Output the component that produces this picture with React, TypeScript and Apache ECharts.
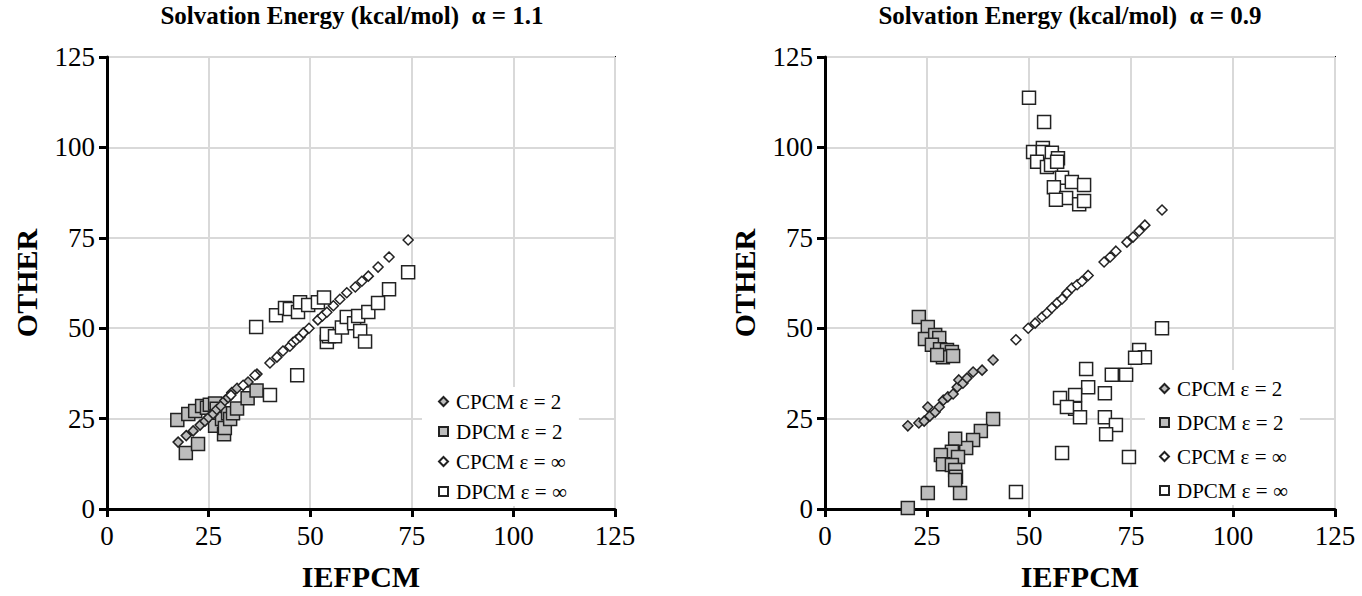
import React, { useEffect, useRef } from "react";
import * as echarts from "echarts";

const seriesNames = ["CPCM ε = 2", "DPCM ε = 2", "CPCM ε = ∞", "DPCM ε = ∞"];
const axisTicks = [0, 25, 50, 75, 100, 125];
const titles = ["Solvation Energy (kcal/mol)  α = 1.1", "Solvation Energy (kcal/mol)  α = 0.9"];
const xName = "IEFPCM";
const yName = "OTHER";

// Left panel (alpha = 1.1)
const leftCpcm2: number[][] = [
  [17.5, 18.5], [19.5, 20.3], [21.2, 21.6], [22.9, 23.2], [24.1, 24.3], [25, 25.3], [26.1, 26.3],
  [27, 27.5], [28, 28.5], [29, 30], [29.8, 30.8], [30.7, 32.2], [32, 33.4], [34.7, 35.1], [36.9, 37.3],
];
const leftDpcm2: number[][] = [
  [17.3, 24.6], [19.4, 15.5], [20, 26.3], [21.7, 27.1], [22.4, 18], [23.4, 28.5], [24.6, 28],
  [25.3, 28.8], [26.6, 29.2], [26.6, 23], [27, 27.7], [28.3, 24.9], [28.8, 20.7], [29, 22.4],
  [29.8, 26.5], [30.3, 24.9], [31, 26.5], [32, 27.8], [34.6, 30.6], [36.8, 32.8],
];
const leftCpcmInf: number[][] = [
  [30.5, 31.5], [33.5, 34.2], [36.4, 37], [40.1, 40.4], [41.8, 42], [43.3, 43.7], [45, 45],
  [45.8, 46.1], [46.6, 46.8], [47.5, 47.6], [48.3, 48.7], [49.7, 50], [51.9, 52.3], [53, 53.4],
  [54.1, 54.4], [55.7, 56.2], [57.3, 58], [59, 59.8], [61.1, 61.4], [62.7, 63], [64.3, 64.4],
  [66.7, 66.9], [69.4, 69.7], [74.1, 74.4],
];
const leftDpcmInf: number[][] = [
  [36.7, 50.3], [40.1, 31.5], [41.6, 53.6], [43.8, 55.6], [45, 55.3], [46.8, 37], [47, 54.5],
  [47.5, 57.2], [49.5, 56.4], [51.9, 57.2], [53.4, 58.5], [54.1, 46.2], [54.6, 47.8], [54.1, 48.4],
  [56.1, 47.8], [57.8, 50.2], [59, 53.1], [60.8, 51.4], [61.8, 53.4], [62.3, 49.2], [63.5, 46.3],
  [64.3, 54.5], [66.7, 57], [69.4, 60.8], [74.1, 65.5],
];

// Right panel (alpha = 0.9)
const rightCpcm2: number[][] = [
  [20.3, 23], [23, 23.8], [24.3, 24.3], [25.2, 28.2], [25.7, 25.7], [27, 26.8], [28, 28.2],
  [29, 30.1], [30.1, 31], [31.4, 31.8], [32.4, 33.7], [32.8, 35.7], [33.8, 34.8], [34.8, 36.2],
  [36.3, 37.9], [38.5, 38.4], [41.2, 41.2],
];
const rightDpcm2: number[][] = [
  [23, 53.1], [25.2, 50.3], [24.5, 47], [27, 48.1], [28, 47.3], [26.2, 45.4], [28.2, 44.2],
  [29.9, 44], [31.1, 43.4], [28.9, 42], [31.4, 42.3], [27.5, 42.6],
  [20.3, 0.3], [25.2, 4.4], [33.1, 4.4], [41.2, 24.9], [38.2, 21.6], [36.3, 19.1], [34.6, 16.9],
  [31.9, 19.4], [31.1, 15.8], [28.4, 14.9], [32.6, 14.4], [28.9, 12.4], [31.1, 12.2], [31.9, 10.8],
  [32.1, 8.9], [31.9, 8],
];
const rightCpcmInf: number[][] = [
  [46.8, 46.8], [49.8, 50], [51.5, 51.4], [53.2, 53.1], [54.4, 54.2], [55.6, 55.6], [56.9, 57],
  [58.1, 58.1], [59.3, 59.7], [60.5, 61.1], [61.8, 62], [63, 63], [64.5, 64.6], [68.4, 68.3],
  [69.9, 69.7], [71.3, 71.3], [74, 73.8], [75.5, 75.2], [77, 76.9], [78.4, 78.5], [82.6, 82.7],
];
const rightDpcmInf: number[][] = [
  [50, 113.7], [53.7, 107], [51, 98.7], [53.4, 99.8], [53.4, 98.7], [55.6, 98.5], [57.1, 97],
  [52, 96], [54.4, 94.6], [55.4, 95.1], [56.9, 96], [58.1, 91.6], [60.5, 90.4], [63.5, 89.6],
  [56.1, 89], [59.1, 86], [56.6, 85.5], [62.3, 84.3], [63.5, 85.2],
  [82.6, 50], [77, 44], [78.4, 42], [76, 41.8], [64, 38.7], [70.3, 37.1], [73.8, 37.1],
  [64.5, 33.7], [61.3, 31.5], [57.6, 30.7], [68.6, 32], [61.3, 27.7], [62.5, 25.4], [59.3, 28.2],
  [68.6, 25.4], [71.3, 23.2], [68.9, 20.7], [58.1, 15.5], [74.5, 14.4], [46.8, 4.7],
];

const FONT = '"Liberation Serif", "Times New Roman", serif';
const GRAY = "#bdbdbd";
const EDGE = "#222222";

export default function App() {
  const ref = useRef<HTMLDivElement>(null);
  useEffect(() => {
    if (!ref.current) return;
    const chart = echarts.init(ref.current, null, { renderer: "svg" });
    const grids = [
      { left: 107, top: 57, width: 508, height: 453 },
      { left: 825, top: 57, width: 510, height: 453 },
    ];
    const makeX = (gi: number) => ({
      type: "value",
      gridIndex: gi,
      min: axisTicks[0],
      max: axisTicks[axisTicks.length - 1],
      interval: 25,
      name: xName,
      nameLocation: "middle",
      nameGap: 52,
      nameTextStyle: { fontFamily: FONT, fontWeight: "bold", fontSize: 30, color: "#000" },
      axisLine: { show: true, onZero: false, lineStyle: { color: "#000", width: 3 } },
      axisTick: { show: true, inside: false, length: 8, lineStyle: { color: "#000", width: 3 } },
      axisLabel: { fontFamily: FONT, fontSize: 27, color: "#000", margin: 13 },
      splitLine: { show: true, lineStyle: { color: "#d9d9d9", width: 2 } },
    });
    const makeY = (gi: number) => ({
      type: "value",
      gridIndex: gi,
      min: axisTicks[0],
      max: axisTicks[axisTicks.length - 1],
      interval: 25,
      name: yName,
      nameLocation: "middle",
      nameGap: 66,
      nameRotate: 90,
      nameTextStyle: { fontFamily: FONT, fontWeight: "bold", fontSize: 30, color: "#000" },
      axisLine: { show: true, onZero: false, lineStyle: { color: "#000", width: 3 } },
      axisTick: { show: true, inside: false, length: 8, lineStyle: { color: "#000", width: 3 } },
      axisLabel: { fontFamily: FONT, fontSize: 27, color: "#000", margin: 12 },
      splitLine: { show: true, lineStyle: { color: "#d9d9d9", width: 2 } },
    });
    const panelData = [
      [leftCpcm2, leftDpcm2, leftCpcmInf, leftDpcmInf],
      [rightCpcm2, rightDpcm2, rightCpcmInf, rightDpcmInf],
    ];
    const styles = [
      { symbol: "diamond", size: 10, color: GRAY, z: 4 },
      { symbol: "rect", size: 13, color: GRAY, z: 3 },
      { symbol: "diamond", size: 10, color: "#ffffff", z: 5 },
      { symbol: "rect", size: 13, color: "#ffffff", z: 6 },
    ];
    const series: any[] = [];
    panelData.forEach((sets, gi) => {
      sets.forEach((d, si) => {
        const s = styles[si];
        series.push({
          type: "scatter",
          name: seriesNames[si],
          xAxisIndex: gi,
          yAxisIndex: gi,
          data: d,
          symbol: s.symbol,
          symbolSize: s.size,
          z: s.z,
          itemStyle: { color: s.color, borderColor: EDGE, borderWidth: 1.5, opacity: 1 },
          emphasis: { disabled: true },
        });
      });
    });
    const legendBase = {
      orient: "vertical",
      data: seriesNames,
      itemWidth: 9,
      itemHeight: 9,
      backgroundColor: "#ffffff",
      textStyle: { fontFamily: FONT, fontSize: 21, color: "#000", padding: [0, 0, 0, 3] },
      selectedMode: false,
    };
    const titleStyle = { fontFamily: FONT, fontWeight: "bold", fontSize: 25, color: "#000" };
    chart.setOption({
      animation: false,
      title: [
        { text: titles[0], left: 347, top: -2, textAlign: "center", textStyle: titleStyle },
        { text: titles[1], left: 1065, top: -2, textAlign: "center", textStyle: titleStyle },
      ],
      legend: [
        { ...legendBase, left: 422, top: 387, padding: [4, 12, 4, 16], itemGap: 9 },
        { ...legendBase, left: 1145, top: 370, padding: [8, 12, 4, 14], itemGap: 13 },
      ],
      grid: grids.map((g) => ({ ...g, show: true, borderColor: "#000", borderWidth: 2, backgroundColor: "transparent" })),
      xAxis: [makeX(0), makeX(1)],
      yAxis: [makeY(0), makeY(1)],
      series,
    });
    return () => chart.dispose();
  }, []);
  return (
    <div
      ref={ref}
      style={{ position: "fixed", left: 0, top: 0, width: 1362, height: 596, background: "#fff" }}
    />
  );
}
